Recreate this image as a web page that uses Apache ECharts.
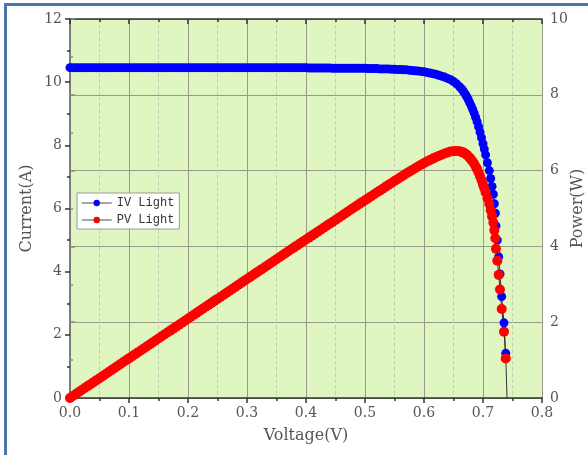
<!DOCTYPE html>
<html>
<head>
<meta charset="utf-8">
<script src="https://cdn.jsdelivr.net/npm/echarts@6/dist/echarts.min.js"></script>
<style>
body{margin:0;padding:0;background:#fff;}
#frame{position:absolute;left:4px;top:3px;width:584px;height:452px;border-top:3px solid #4a76ad;border-left:3px solid #4a76ad;box-sizing:border-box;}
#main{position:absolute;left:0;top:0;width:588px;height:455px;}
</style>
</head>
<body>
<div id="frame"></div>
<div id="main"></div>
<script>
// voltage (V), current (A) and power (W)
var voltage = [
  0.000,0.005,0.010,0.015,0.020,0.025,0.030,0.035,0.040,0.045,
  0.050,0.055,0.060,0.065,0.070,0.075,0.080,0.085,0.090,0.095,
  0.100,0.105,0.110,0.115,0.120,0.125,0.130,0.135,0.140,0.145,
  0.150,0.155,0.160,0.165,0.170,0.175,0.180,0.185,0.190,0.195,
  0.200,0.205,0.210,0.215,0.220,0.225,0.230,0.235,0.240,0.245,
  0.250,0.255,0.260,0.265,0.270,0.275,0.280,0.285,0.290,0.295,
  0.300,0.305,0.310,0.315,0.320,0.325,0.330,0.335,0.340,0.345,
  0.350,0.355,0.360,0.365,0.370,0.375,0.380,0.385,0.390,0.395,
  0.400,0.405,0.410,0.415,0.420,0.425,0.430,0.435,0.440,0.445,
  0.450,0.455,0.460,0.465,0.470,0.475,0.480,0.485,0.490,0.495,
  0.500,0.505,0.510,0.515,0.520,0.525,0.530,0.535,0.540,0.545,
  0.550,0.555,0.560,0.565,0.570,0.575,0.580,0.585,0.590,0.595,
  0.600,0.605,0.610,0.615,0.620,0.625,0.630,0.635,0.640,0.645,
  0.650,0.655,0.660,0.6625,0.665,0.6675,0.670,0.6725,0.675,0.6775,
  0.680,0.6825,0.685,0.6875,0.690,0.6925,0.695,0.6975,0.700,0.7022,
  0.7045,0.7075,0.7107,0.713,0.7153,0.7175,0.7192,0.7209,0.722,0.7243,
  0.7266,0.7288,0.7317,0.7356,0.7385
];
var current = [
  10.46,10.46,10.46,10.46,10.46,10.46,10.46,10.46,10.46,10.46,
  10.46,10.46,10.46,10.46,10.46,10.46,10.46,10.46,10.46,10.46,
  10.46,10.46,10.46,10.46,10.46,10.46,10.46,10.46,10.46,10.46,
  10.46,10.46,10.46,10.46,10.46,10.46,10.46,10.46,10.46,10.46,
  10.46,10.46,10.46,10.46,10.46,10.46,10.46,10.46,10.46,10.46,
  10.46,10.46,10.46,10.46,10.46,10.46,10.46,10.46,10.46,10.46,
  10.46,10.46,10.46,10.46,10.46,10.46,10.46,10.46,10.46,10.46,
  10.46,10.46,10.46,10.46,10.46,10.46,10.46,10.46,10.46,10.46,
  10.46,10.45,10.45,10.45,10.45,10.45,10.45,10.45,10.45,10.44,
  10.44,10.44,10.44,10.44,10.44,10.44,10.44,10.44,10.44,10.44,
  10.44,10.43,10.43,10.43,10.43,10.42,10.42,10.42,10.42,10.41,
  10.41,10.40,10.40,10.39,10.39,10.38,10.37,10.36,10.35,10.34,
  10.33,10.31,10.29,10.27,10.25,10.22,10.19,10.16,10.12,10.08,
  10.02,9.95,9.86,9.81,9.76,9.69,9.62,9.54,9.45,9.35,
  9.25,9.14,9.02,8.89,8.75,8.59,8.42,8.24,8.05,7.88,
  7.70,7.45,7.20,6.95,6.70,6.45,6.15,5.85,5.45,5.00,
  4.47,3.93,3.21,2.38,1.415
];
var power = [
  0.000,0.052,0.105,0.157,0.209,0.262,0.314,0.366,0.418,0.471,
  0.523,0.575,0.628,0.680,0.732,0.785,0.837,0.889,0.941,0.994,
  1.046,1.098,1.151,1.203,1.255,1.308,1.360,1.412,1.464,1.517,
  1.569,1.621,1.674,1.726,1.778,1.831,1.883,1.935,1.987,2.040,
  2.092,2.144,2.197,2.249,2.301,2.354,2.406,2.458,2.510,2.563,
  2.615,2.667,2.720,2.772,2.824,2.877,2.929,2.981,3.033,3.086,
  3.138,3.190,3.243,3.295,3.347,3.400,3.452,3.504,3.556,3.609,
  3.661,3.713,3.766,3.818,3.870,3.923,3.975,4.027,4.079,4.132,
  4.184,4.232,4.285,4.337,4.389,4.441,4.494,4.546,4.598,4.646,
  4.698,4.750,4.802,4.855,4.907,4.959,5.011,5.063,5.116,5.168,
  5.220,5.267,5.319,5.371,5.424,5.471,5.523,5.575,5.627,5.673,
  5.726,5.772,5.824,5.870,5.922,5.969,6.015,6.061,6.107,6.152,
  6.198,6.238,6.277,6.316,6.355,6.388,6.420,6.452,6.477,6.502,
  6.513,6.517,6.508,6.499,6.490,6.468,6.445,6.416,6.379,6.335,
  6.290,6.238,6.179,6.112,6.038,5.949,5.852,5.747,5.635,5.533,
  5.425,5.271,5.117,4.955,4.793,4.628,4.423,4.217,3.935,3.622,
  3.248,2.864,2.349,1.751,1.045
];
var openCircuitV = 0.7407;

var xTicks = ['0.0','0.1','0.2','0.3','0.4','0.5','0.6','0.7','0.8'];

var ivData = voltage.map(function (v, i) { return [v, current[i]]; });
ivData.push({ value: [openCircuitV, 0], symbol: 'none' });
var pvData = voltage.map(function (v, i) { return [v, power[i]]; });

var font = 'DejaVu Serif';
var txt = '#555';
var tickStyle = { color: '#333', width: 1.5 };

var chart = echarts.init(document.getElementById('main'));
chart.setOption({
  animation: false,
  grid: {
    left: 70, right: 46, top: 19, bottom: 57,
    outerBoundsMode: 'none',
    show: true, backgroundColor: '#dff6c1', borderWidth: 0
  },
  legend: {
    orient: 'vertical',
    left: 77, top: 193,
    itemGap: 5,
    itemWidth: 30, itemHeight: 8,
    padding: [4, 5, 3, 4],
    backgroundColor: '#fff',
    borderColor: '#999', borderWidth: 1,
    data: ['IV Light', 'PV Light'],
    textStyle: { fontFamily: 'Liberation Mono', fontSize: 12, color: '#333' },
    lineStyle: { color: '#888', width: 1.5 }
  },
  xAxis: [{
    type: 'value', min: 0, max: 0.8, interval: 0.1,
    name: 'Voltage(V)', nameLocation: 'middle', nameGap: 30, nameMoveOverlap: false,
    nameTextStyle: { fontFamily: font, fontSize: 16, color: txt },
    axisLine: { lineStyle: tickStyle },
    axisTick: { length: 5, lineStyle: tickStyle },
    minorTick: { show: true, splitNumber: 2, length: 3, lineStyle: tickStyle },
    axisLabel: {
      margin: 8, fontFamily: font, fontSize: 14, color: txt,
      formatter: function (v) { return xTicks[Math.round(v * 10)]; }
    },
    splitLine: { show: true, lineStyle: { color: '#9a9a8a', width: 1 } },
    minorSplitLine: { show: true, lineStyle: { color: '#c5cfb3', type: 'dashed', width: 1 } }
  }, {
    type: 'value', min: 0, max: 0.8, interval: 0.1, position: 'top',
    axisLine: { show: true, onZero: false, lineStyle: tickStyle },
    axisTick: { inside: true, length: 5, lineStyle: tickStyle },
    minorTick: { show: true, splitNumber: 2, length: 3, lineStyle: tickStyle },
    axisLabel: { show: false },
    splitLine: { show: false }
  }],
  yAxis: [{
    type: 'value', min: 0, max: 12, interval: 2,
    name: 'Current(A)', nameLocation: 'middle', nameGap: 35, nameRotate: 90, nameMoveOverlap: false,
    nameTextStyle: { fontFamily: font, fontSize: 16, color: txt },
    axisLine: { show: true, lineStyle: tickStyle },
    axisTick: { show: true, length: 5, lineStyle: tickStyle },
    minorTick: { show: true, splitNumber: 2, length: 3, lineStyle: tickStyle },
    axisLabel: { margin: 8, fontFamily: font, fontSize: 14, color: txt },
    splitLine: { show: false }
  }, {
    type: 'value', min: 0, max: 10, interval: 2, position: 'right',
    name: 'Power(W)', nameLocation: 'middle', nameGap: 28, nameRotate: 90, nameMoveOverlap: false,
    nameTextStyle: { fontFamily: font, fontSize: 16, color: txt },
    axisLine: { show: true, lineStyle: { color: '#888', width: 1.5 } },
    axisTick: { show: true, length: 5, lineStyle: { color: '#888', width: 1.5 } },
    minorTick: { show: true, splitNumber: 2, length: 3, lineStyle: { color: '#888', width: 1.5 } },
    axisLabel: { margin: 8, fontFamily: font, fontSize: 14, color: txt },
    splitLine: { show: true, lineStyle: { color: '#9a9a8a', width: 1 } }
  }],
  series: [{
    name: 'IV Light',
    type: 'line',
    data: ivData,
    symbol: 'circle', symbolSize: 9,
    itemStyle: { color: '#0000ff' },
    lineStyle: { color: '#333', width: 1 }
  }, {
    name: 'PV Light',
    type: 'line',
    yAxisIndex: 1,
    data: pvData,
    symbol: 'circle', symbolSize: 10,
    itemStyle: { color: '#ff0000' },
    lineStyle: { color: '#333', width: 1 }
  }]
});
</script>
</body>
</html>
